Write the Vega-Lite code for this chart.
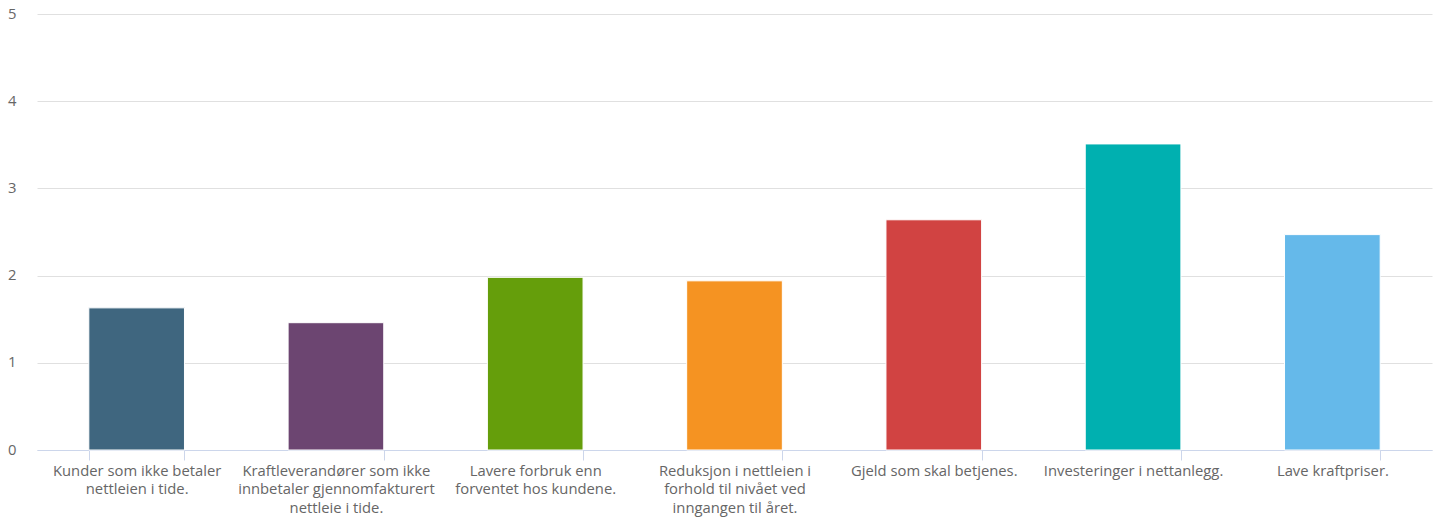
{
  "$schema": "https://vega.github.io/schema/vega-lite/v6.json",
  "width": 1395,
  "height": 436,
  "autosize": {"type": "none"},
  "padding": {"left": 37, "top": 14, "right": 8, "bottom": 67},
  "background": "#ffffff",
  "config": {
    "view": {"stroke": null},
    "font": "Open Sans"
  },
  "data": {
    "values": [
      {"cat": "Kunder som ikke betaler nettleien i tide.", "value": 1.63},
      {"cat": "Kraftleverandører som ikke innbetaler gjennomfakturert nettleie i tide.", "value": 1.46},
      {"cat": "Lavere forbruk enn forventet hos kundene.", "value": 1.98},
      {"cat": "Reduksjon i nettleien i forhold til nivået ved inngangen til året.", "value": 1.94},
      {"cat": "Gjeld som skal betjenes.", "value": 2.64},
      {"cat": "Investeringer i nettanlegg.", "value": 3.51},
      {"cat": "Lave kraftpriser.", "value": 2.47}
    ]
  },
  "mark": {"type": "bar", "stroke": "#ffffff", "strokeWidth": 1},
  "encoding": {
    "x": {
      "field": "cat",
      "type": "nominal",
      "sort": null,
      "title": null,
      "scale": {"paddingInner": 0.52, "paddingOuter": 0.26},
      "axis": {
        "labelAngle": 0,
        "tickBand": "extent",
        "ticks": true,
        "tickSize": 10,
        "tickColor": "#ccd6eb",
        "domainColor": "#ccd6eb",
        "grid": false,
        "labelPadding": 3,
        "labelFontSize": 14.8,
        "labelColor": "#666666",
        "labelFont": "Open Sans",
        "labelLineHeight": 18.5,
        "labelBaseline": "top",
        "labelLimit": 0,
        "labelExpr": "datum.value == 'Kunder som ikke betaler nettleien i tide.' ? ['Kunder som ikke betaler', 'nettleien i tide.'] : datum.value == 'Kraftleverandører som ikke innbetaler gjennomfakturert nettleie i tide.' ? ['Kraftleverandører som ikke', 'innbetaler gjennomfakturert', 'nettleie i tide.'] : datum.value == 'Lavere forbruk enn forventet hos kundene.' ? ['Lavere forbruk enn', 'forventet hos kundene.'] : datum.value == 'Reduksjon i nettleien i forhold til nivået ved inngangen til året.' ? ['Reduksjon i nettleien i', 'forhold til nivået ved', 'inngangen til året.'] : datum.value"
      }
    },
    "y": {
      "field": "value",
      "type": "quantitative",
      "title": null,
      "scale": {"domain": [0, 5], "nice": false},
      "axis": {
        "values": [0, 1, 2, 3, 4, 5],
        "domain": false,
        "ticks": false,
        "grid": true,
        "gridColor": "#e0e0e0",
        "labelPadding": 21,
        "labelFontSize": 14.8,
        "labelColor": "#666666",
        "labelFont": "Open Sans"
      }
    },
    "color": {
      "field": "cat",
      "type": "nominal",
      "sort": null,
      "legend": null,
      "scale": {
        "domain": [
          "Kunder som ikke betaler nettleien i tide.",
          "Kraftleverandører som ikke innbetaler gjennomfakturert nettleie i tide.",
          "Lavere forbruk enn forventet hos kundene.",
          "Reduksjon i nettleien i forhold til nivået ved inngangen til året.",
          "Gjeld som skal betjenes.",
          "Investeringer i nettanlegg.",
          "Lave kraftpriser."
        ],
        "range": ["#3f667f", "#6c4571", "#659e0b", "#f59322", "#d14342", "#00b0b0", "#65b9ea"]
      }
    }
  }
}
